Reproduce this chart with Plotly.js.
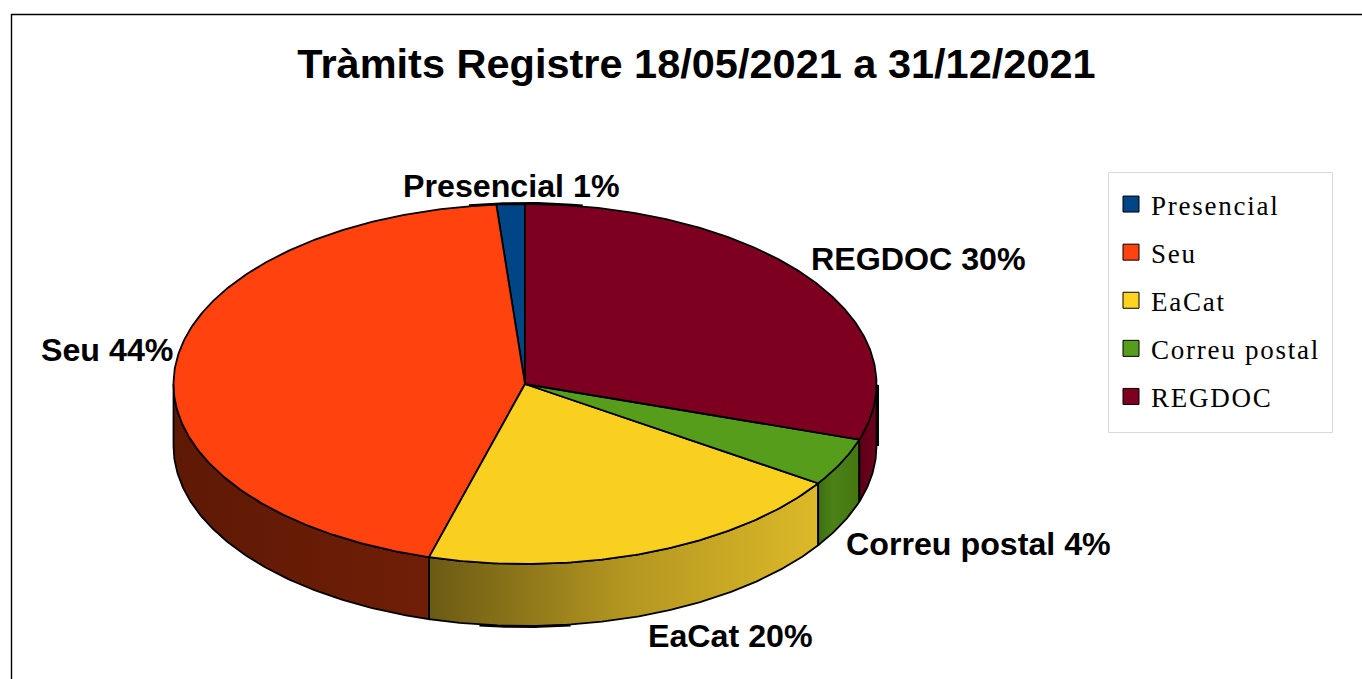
<!DOCTYPE html>
<html>
<head>
<meta charset="utf-8">
<script src="https://cdn.plot.ly/plotly-3.0.1.min.js"></script>
<style>
html,body{margin:0;padding:0;background:#fff;overflow:hidden}
#chart{width:1362px;height:679px}
.legendtext{letter-spacing:1.75px}
</style>
</head>
<body>
<div id="chart"></div>
<script>
var categories = ["Presencial", "Seu", "EaCat", "Correu postal", "REGDOC"];
var values = [1.3, 44.3, 20.1, 4.3, 30.0];
var chartTitle = "Tràmits Registre 18/05/2021 a 31/12/2021";

var topColors = ["#004586", "#ff420e", "#f9cf20", "#579d1c", "#7e0021"];
var legendColors = ["#004586", "#ff420e", "#ffd320", "#579d1c", "#7e0021"];
var wallScales = [
  [[0, "#00264a"], [1, "#00264a"]],
  [[0, "#5e1904"], [1, "#701e07"]],
  [[0, "#6b5a14"], [0.5, "#b39620"], [1, "#dcb928"]],
  [[0, "#3f6e12"], [0.35, "#4b8216"], [1, "#447612"]],
  [[0, "#5c0019"], [1, "#6e001d"]]
];
var labelAnchors = [[511.5, 186], [107, 350], [730.5, 636], [978.5, 544], [918.5, 259]];

var cx = 525, cy = 384, rx = 351.5, ry = 180, depth = 62;

function px(t) { return cx + rx * Math.sin(t); }
function py(t) { return cy - ry * Math.cos(t); }
function arc(a, b, dy) {
  var n = Math.max(2, Math.ceil(Math.abs(b - a) / 0.01)), xs = [], ys = [];
  for (var i = 0; i <= n; i++) {
    var t = a + (b - a) * i / n;
    xs.push(px(t));
    ys.push(py(t) + dy);
  }
  return {x: xs, y: ys};
}

var total = values.reduce(function (s, v) { return s + v; }, 0);
var spans = [], run = 0;
values.forEach(function (v) {
  var end = 2 * Math.PI - 2 * Math.PI * run / total;
  run += v;
  spans.push([2 * Math.PI - 2 * Math.PI * run / total, end]);
});

var traces = [];

// side walls: only the front half of the rim is visible
spans.forEach(function (s, i) {
  var a = Math.max(s[0], Math.PI / 2), b = Math.min(s[1], 3 * Math.PI / 2);
  if (b <= a) return;
  var upper = arc(a, b, 0), lower = arc(b, a, depth);
  traces.push({
    type: "scatter", mode: "lines", name: categories[i], showlegend: false, hoverinfo: "skip",
    x: upper.x.concat(lower.x, [upper.x[0]]),
    y: upper.y.concat(lower.y, [upper.y[0]]),
    fill: "toself", fillcolor: legendColors[i],
    fillgradient: {type: "horizontal", colorscale: wallScales[i]},
    line: {color: "#000", width: 1.8}
  });
});

// top faces
spans.forEach(function (s, i) {
  var a = arc(s[0], s[1], 0);
  traces.push({
    type: "scatter", mode: "lines", name: categories[i], showlegend: false,
    x: [cx].concat(a.x, [cx]),
    y: [cy].concat(a.y, [cy]),
    fill: "toself", fillcolor: topColors[i],
    line: {color: "#000", width: 1.8},
    text: categories[i] + " " + values[i] + "%", hoverinfo: "text"
  });
});

// heavier rim strokes where the outline runs flat against the pixel grid
var topRim = arc(-0.16, 0.165, -0.8), bottomRim = arc(Math.PI - 0.13, Math.PI + 0.13, depth + 0.8);
[topRim, bottomRim].forEach(function (r) {
  traces.push({type: "scatter", mode: "lines", showlegend: false, hoverinfo: "skip",
    x: r.x, y: r.y, line: {color: "#000", width: 2.4}});
});

// legend entries
categories.forEach(function (c, i) {
  traces.push({
    type: "scatter", mode: "markers", name: c, x: [null], y: [null],
    legendgroup: c, showlegend: true, hoverinfo: "skip",
    marker: {symbol: "square", size: 16, color: legendColors[i], line: {color: "#000", width: 1}}
  });
});

var annotations = categories.map(function (c, i) {
  return {
    xref: "x", yref: "y", x: labelAnchors[i][0], y: labelAnchors[i][1],
    text: c + " " + Math.round(values[i] / total * 100) + "%",
    showarrow: false, xanchor: "center", yanchor: "middle",
    font: {family: "Liberation Sans", size: 32.2, color: "#000", weight: 700}
  };
});

var layout = {
  width: 1362, height: 679,
  margin: {l: 0, r: 0, t: 0, b: 0},
  paper_bgcolor: "#fff", plot_bgcolor: "#fff",
  title: {
    text: "<b>" + chartTitle + "</b>",
    x: 696.5 / 1362, xanchor: "center", xref: "paper",
    y: 1 - 63 / 679, yanchor: "middle", yref: "paper",
    font: {family: "Liberation Sans", size: 41.5, color: "#000"}
  },
  xaxis: {range: [0, 1362], visible: false, fixedrange: true},
  yaxis: {range: [679, 0], visible: false, fixedrange: true},
  showlegend: true,
  legend: {
    x: 1111 / 1362, xanchor: "left", y: 1 - 180 / 679, yanchor: "top",
    bgcolor: "rgba(0,0,0,0)", borderwidth: 0,
    tracegroupgap: 10, traceorder: "grouped",
    font: {family: "Liberation Serif", size: 27, color: "#000"},
    itemclick: false, itemdoubleclick: false
  },
  shapes: [
    {type: "rect", xref: "x", yref: "y", x0: 1108.5, x1: 1332.5, y0: 172.5, y1: 432.5,
     line: {color: "#d9d9d9", width: 1}, fillcolor: "#fff", layer: "below"},
    {type: "line", xref: "x", yref: "y", x0: 11, x1: 1362, y0: 14.5, y1: 14.5, line: {color: "#000", width: 1.4}},
    {type: "line", xref: "x", yref: "y", x0: 11.5, x1: 11.5, y0: 14, y1: 679, line: {color: "#000", width: 1.4}},
    {type: "line", xref: "x", yref: "y", x0: 878, x1: 878, y0: 385, y1: 446, line: {color: "#000", width: 2}}
  ],
  annotations: annotations
};

Plotly.newPlot("chart", traces, layout, {displayModeBar: false, responsive: false});
</script>
</body>
</html>
